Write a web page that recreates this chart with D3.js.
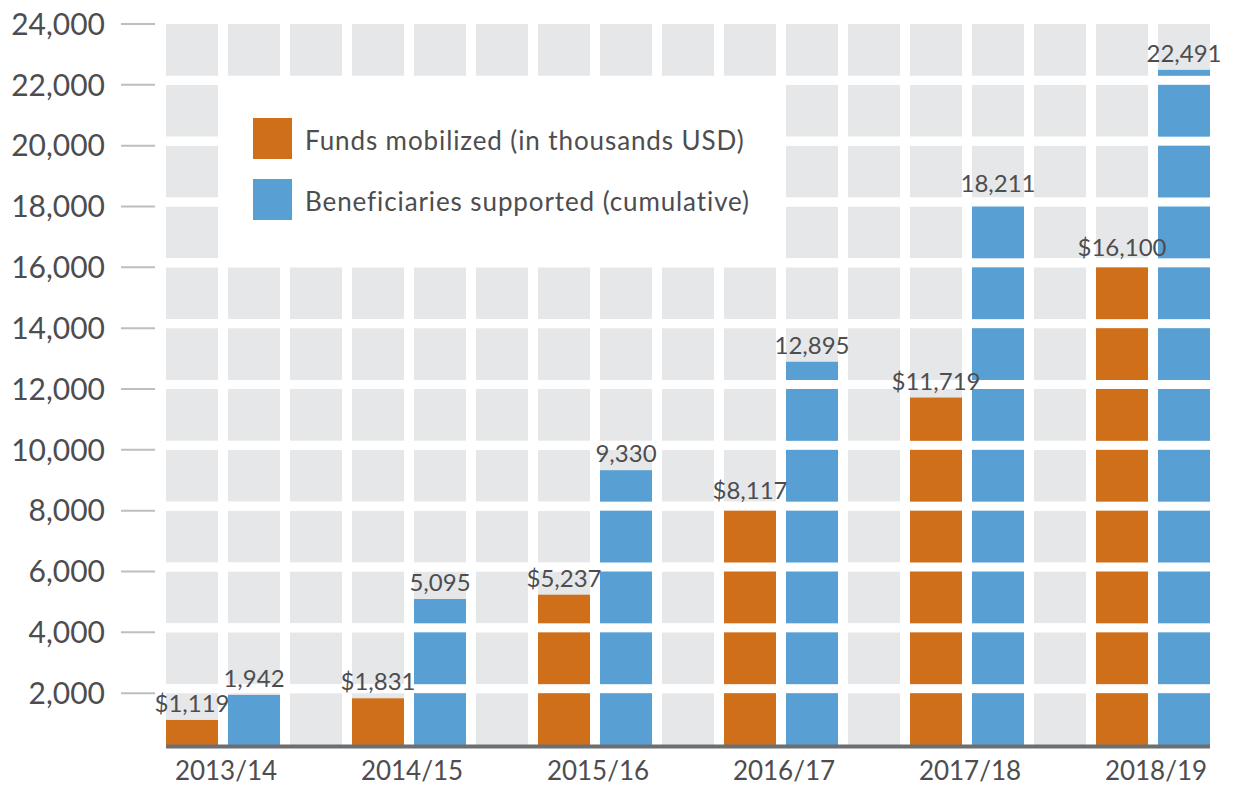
<!DOCTYPE html>
<html lang="en">
<head>
    <meta charset="UTF-8">
    <title>Funds mobilized and beneficiaries supported</title>
    <script src="https://d3js.org/d3.v7.min.js"></script>
    <style>
        body { margin: 0; background: #fff; overflow: hidden; }
        svg { display: block; font-family: Lato, "Open Sans", sans-serif; }
        .tick-label { fill: #4d4d4f; font-size: 30px; }
        .year-label { fill: #4d4d4f; font-size: 26px; }
        .value-label { fill: #4d4d4f; font-size: 24px; }
        .legend-label { fill: #4d4d4f; font-size: 26px; letter-spacing: 0.9px; }
    </style>
</head>
<body>
<script>
    // Data
    const years = ["2013/14", "2014/15", "2015/16", "2016/17", "2017/18", "2018/19"];
    const funds = [1119, 1831, 5237, 8117, 11719, 16100];          // thousands USD
    const beneficiaries = [1942, 5095, 9330, 12895, 18211, 22491]; // cumulative
    const yTicks = [2000, 4000, 6000, 8000, 10000, 12000, 14000, 16000, 18000, 20000, 22000, 24000];
    const seriesNames = ["Funds mobilized (in thousands USD)", "Beneficiaries supported (cumulative)"];

    const width = 1238, height = 787;
    const orange = "#d06f1a", blue = "#58a0d3", cellGrey = "#e6e7e8";

    const svg = d3.select("body").append("svg")
        .attr("width", width)
        .attr("height", height);

    // y: 0 sits one band below the 2,000 line; bars are cut by white gaps at each tick
    const y = d3.scaleLinear().domain([0, 24000]).range([754, 24]);
    const gap = 9;
    const baseY = y(0) - gap;

    // columns: each year gets orange, blue and an empty column
    const nCols = years.length * 3 - 1;
    const col = d3.scaleLinear().domain([0, 1]).range([166, 228]);
    const colW = 52;

    // grey background cells
    const rows = [0].concat(yTicks.slice(0, -1));
    const cells = [];
    d3.range(nCols).forEach(c => rows.forEach(r => cells.push({ c, r })));
    svg.append("g").selectAll("rect")
        .data(cells)
        .join("rect")
        .attr("x", d => col(d.c))
        .attr("y", d => y(d.r + 2000))
        .attr("width", colW)
        .attr("height", d => y(d.r) - y(d.r + 2000) - gap)
        .attr("fill", cellGrey);

    // bars
    const bars = [];
    years.forEach((yr, i) => {
        bars.push({ c: i * 3, v: funds[i], color: orange, label: "$" + d3.format(",")(funds[i]) });
        bars.push({ c: i * 3 + 1, v: beneficiaries[i], color: blue, label: d3.format(",")(beneficiaries[i]) });
    });

    svg.append("g").selectAll("rect")
        .data(bars)
        .join("rect")
        .attr("x", d => col(d.c))
        .attr("y", d => y(d.v))
        .attr("width", colW)
        .attr("height", d => baseY - y(d.v))
        .attr("fill", d => d.color);

    // white gaps cutting the bars at every tick
    svg.append("g").selectAll("rect")
        .data(yTicks)
        .join("rect")
        .attr("x", col(0))
        .attr("y", d => y(d) - gap)
        .attr("width", col(nCols) - col(0))
        .attr("height", gap)
        .attr("fill", "#fff");

    // value labels
    svg.append("g").selectAll("text")
        .data(bars)
        .join("text")
        .attr("class", "value-label")
        .attr("x", d => col(d.c) + colW / 2)
        .attr("y", d => y(d.v) - 8)
        .attr("text-anchor", "middle")
        .text(d => d.label);

    // y axis: short tick lines and labels
    const yAxis = svg.append("g");
    yAxis.selectAll("line")
        .data(yTicks)
        .join("line")
        .attr("x1", 121).attr("x2", 155)
        .attr("y1", d => y(d)).attr("y2", d => y(d))
        .attr("stroke", "#bcbec0")
        .attr("stroke-width", 2);
    yAxis.selectAll("text")
        .data(yTicks)
        .join("text")
        .attr("class", "tick-label")
        .attr("x", 105)
        .attr("y", d => y(d))
        .attr("dy", "0.36em")
        .attr("text-anchor", "end")
        .text(d => d3.format(",")(d));

    // x axis line
    svg.append("line")
        .attr("x1", col(0)).attr("x2", col(nCols - 1) + colW)
        .attr("y1", baseY + 1.5).attr("y2", baseY + 1.5)
        .attr("stroke", "#6d6e71")
        .attr("stroke-width", 4);

    svg.append("g").selectAll("text")
        .data(years)
        .join("text")
        .attr("class", "year-label")
        .attr("x", (d, i) => col(i * 3) + colW + 8)
        .attr("y", 780)
        .attr("text-anchor", "middle")
        .text(d => d);

    // legend on a white panel
    const legend = svg.append("g");
    legend.append("rect")
        .attr("x", 218).attr("y", 78)
        .attr("width", 559).attr("height", 180)
        .attr("fill", "#fff");
    const items = legend.selectAll("g")
        .data(seriesNames)
        .join("g")
        .attr("transform", (d, i) => `translate(253, ${118 + i * 61})`);
    items.append("rect")
        .attr("width", 39).attr("height", 41)
        .attr("fill", (d, i) => i === 0 ? orange : blue);
    items.append("text")
        .attr("class", "legend-label")
        .attr("x", 52)
        .attr("y", 32)
        .text(d => d);
</script>
</body>
</html>
